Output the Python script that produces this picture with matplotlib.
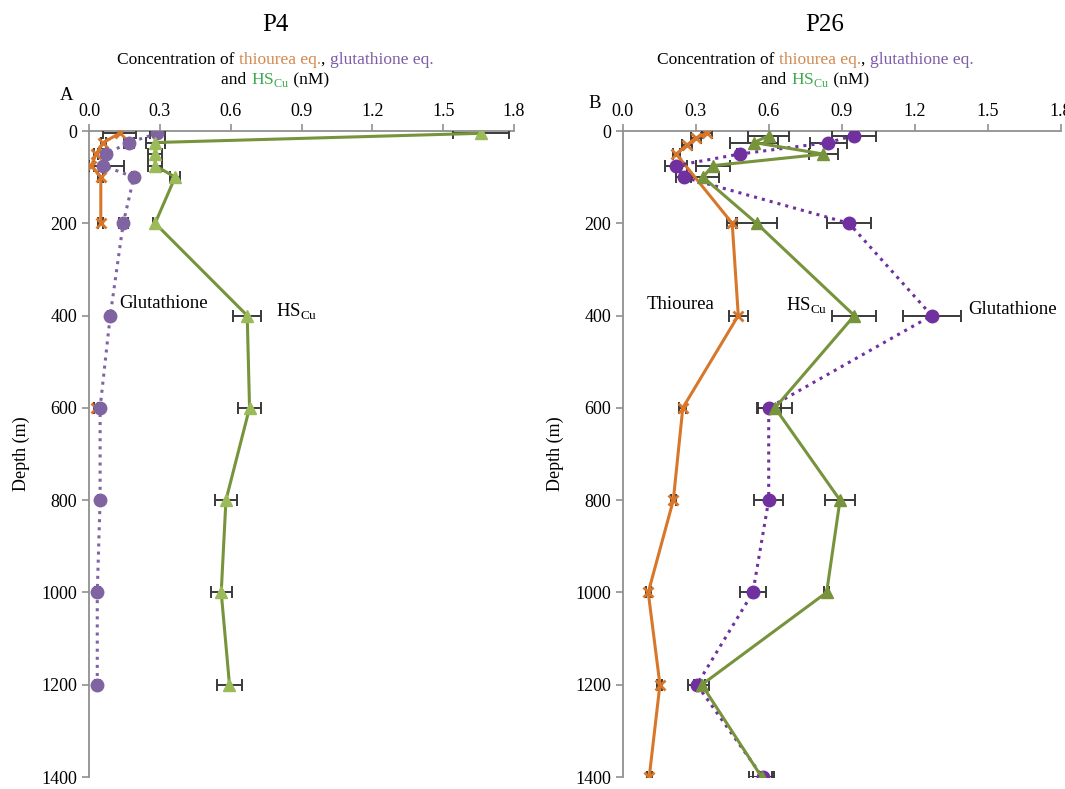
import numpy as np
import matplotlib
matplotlib.use("Agg")
import matplotlib.pyplot as plt
from matplotlib.offsetbox import TextArea, HPacker, AnnotationBbox

plt.rcParams['font.family'] = 'Liberation Serif'
plt.rcParams['mathtext.fontset'] = 'custom'
plt.rcParams['mathtext.rm'] = 'Liberation Serif'

# ---- P4 (panel A) ----
p4_thio_depth = [5, 25, 50, 75, 100, 200, 400, 600]
p4_thio = [0.13, 0.06, 0.03, 0.01, 0.05, 0.05, np.nan, 0.03]
p4_thio_err = [0.07, 0.01, 0.01, 0.01, 0.01, 0.01, np.nan, 0.01]

p4_glu_depth = [5, 25, 50, 75, 100, 200, 400, 600, 800, 1000, 1200]
p4_glu = [0.29, 0.17, 0.07, 0.06, 0.19, 0.145, 0.09, 0.047, 0.047, 0.035, 0.035]
p4_glu_err = [0.03, 0.02, 0.01, 0.09, 0.01, 0.02, 0.01, 0.01, 0.01, 0.01, 0.01]

p4_hs_depth = [5, 25, 50, 75, 100, 200, 400, 600, 800, 1000, 1200]
p4_hs = [1.66, 0.28, 0.28, 0.28, 0.365, 0.28, 0.67, 0.68, 0.58, 0.56, 0.595]
p4_hs_err = [0.12, 0.04, 0.03, 0.03, 0.02, 0.01, 0.06, 0.05, 0.045, 0.045, 0.055]

# ---- P26 (panel B) ----
p26_thio_depth = [5, 15, 30, 50, 200, 400, 600, 800, 1000, 1200, 1400]
p26_thio = [0.345, 0.30, 0.265, 0.22, 0.45, 0.475, 0.247, 0.208, 0.105, 0.153, 0.109]
p26_thio_err = [0.02, 0.02, 0.02, 0.015, 0.02, 0.04, 0.015, 0.01, 0.01, 0.01, 0.01]

p26_glu_depth = [10, 25, 50, 75, 100, 200, 400, 600, 800, 1000, 1200, 1400]
p26_glu = [0.95, 0.845, 0.48, 0.22, 0.25, 0.93, 1.27, 0.60, 0.60, 0.535, 0.305, 0.575]
p26_glu_err = [0.09, 0.075, 0.01, 0.045, 0.03, 0.09, 0.12, 0.05, 0.06, 0.055, 0.035, 0.04]

p26_hs_depth = [10, 25, 50, 75, 100, 200, 400, 600, 800, 1000, 1200, 1400]
p26_hs = [0.60, 0.54, 0.825, 0.37, 0.33, 0.55, 0.952, 0.626, 0.893, 0.838, 0.325, 0.571]
p26_hs_err = [0.085, 0.10, 0.06, 0.07, 0.065, 0.085, 0.09, 0.07, 0.06, 0.01, 0.03, 0.05]

x_ticks = [0.0, 0.3, 0.6, 0.9, 1.2, 1.5, 1.8]
y_ticks = [0, 200, 400, 600, 800, 1000, 1200, 1400]

orange = '#D8772A'
green_line = '#77933C'
green_mark = '#9BBB59'
W, H = 1065, 789

fig = plt.figure(figsize=(W / 100, H / 100), dpi=100)
axA = fig.add_axes([89 / W, 12 / H, 425 / W, 646 / H])
axB = fig.add_axes([622.7 / W, 12 / H, 438 / W, 646 / H])


def draw_series(ax, vals, depth, err, color, ls, marker, ms, mfc, mec, mew=1.0):
    ax.errorbar(vals, depth, xerr=err, fmt='none', ecolor='#3a3a3a',
                elinewidth=1.4, capsize=4, capthick=1.4, zorder=3)
    ax.plot(vals, depth, color=color, ls=ls, lw=2.2, marker=marker, ms=ms,
            mfc=mfc, mec=mec, mew=mew, zorder=4)


def style_axes(ax):
    ax.set_xlim(0, 1.8)
    ax.set_ylim(1400, 0)
    ax.set_xticks(x_ticks)
    ax.set_xticklabels(['%.1f' % t for t in x_ticks])
    ax.set_yticks(y_ticks)
    ax.xaxis.tick_top()
    for s in ['right', 'bottom']:
        ax.spines[s].set_visible(False)
    for s in ['left', 'top']:
        ax.spines[s].set_color('#909090')
        ax.spines[s].set_linewidth(1.3)
    ax.tick_params(axis='both', colors='#909090', labelcolor='black',
                   labelsize=13, length=5, width=1.2)
    ax.tick_params(axis='x', pad=3)
    ax.set_ylabel('Depth (m)', fontsize=13, labelpad=8)


# panel A
draw_series(axA, p4_thio, p4_thio_depth, p4_thio_err, orange, '-', 'x', 7, orange, orange, 2)
draw_series(axA, p4_glu, p4_glu_depth, p4_glu_err, '#8064A2', ':', 'o', 9, '#8064A2', '#8064A2')
draw_series(axA, p4_hs, p4_hs_depth, p4_hs_err, green_line, '-', '^', 9, green_mark, green_mark)
style_axes(axA)
axA.text(0.13, 373, 'Glutathione', fontsize=13.5, ha='left', va='center')
axA.text(0.79, 392, r'HS$_{\mathrm{Cu}}$', fontsize=13.5, ha='left', va='center')

# panel B
draw_series(axB, p26_thio, p26_thio_depth, p26_thio_err, orange, '-', 'x', 7, orange, orange, 2)
draw_series(axB, p26_glu, p26_glu_depth, p26_glu_err, '#7030A0', ':', 'o', 9, '#7030A0', '#7030A0')
draw_series(axB, p26_hs, p26_hs_depth, p26_hs_err, green_line, '-', '^', 9, green_line, green_line)
style_axes(axB)
axB.text(0.10, 375, 'Thiourea', fontsize=13.5, ha='left', va='center')
axB.text(0.67, 378, r'HS$_{\mathrm{Cu}}$', fontsize=13.5, ha='left', va='center')
axB.text(1.42, 386, 'Glutathione', fontsize=13.5, ha='left', va='center')


def header(cx, tx, title):
    fig.text(tx / W, 1 - 25 / H, title, fontsize=18, ha='center', va='center')
    fs = 12.5
    line1 = HPacker(children=[
        TextArea('Concentration of ', textprops=dict(fontsize=fs, color='black')),
        TextArea('thiourea eq.', textprops=dict(fontsize=fs, color='#D2894E')),
        TextArea(', ', textprops=dict(fontsize=fs, color='black')),
        TextArea('glutathione eq.', textprops=dict(fontsize=fs, color='#7E5CA8')),
    ], sep=0, pad=0, align='baseline')
    line2 = HPacker(children=[
        TextArea('and ', textprops=dict(fontsize=fs, color='black')),
        TextArea(r'HS$_{\mathrm{Cu}}$', textprops=dict(fontsize=fs, color='#3DAA4D')),
        TextArea(' (nM)', textprops=dict(fontsize=fs, color='black')),
    ], sep=0, pad=0, align='baseline')
    for box, y in [(line1, 60), (line2, 80)]:
        ab = AnnotationBbox(box, (cx / W, 1 - y / H), xycoords='figure fraction',
                            frameon=False, box_alignment=(0.5, 0.5), pad=0)
        fig.add_artist(ab)


header(275, 275, 'P4')
header(815, 825, 'P26')

fig.text(60 / W, 1 - 95 / H, 'A', fontsize=13.5, ha='left', va='center')
fig.text(588 / W, 1 - 103 / H, 'B', fontsize=13.5, ha='left', va='center')

fig.savefig('out.png', dpi=100)
